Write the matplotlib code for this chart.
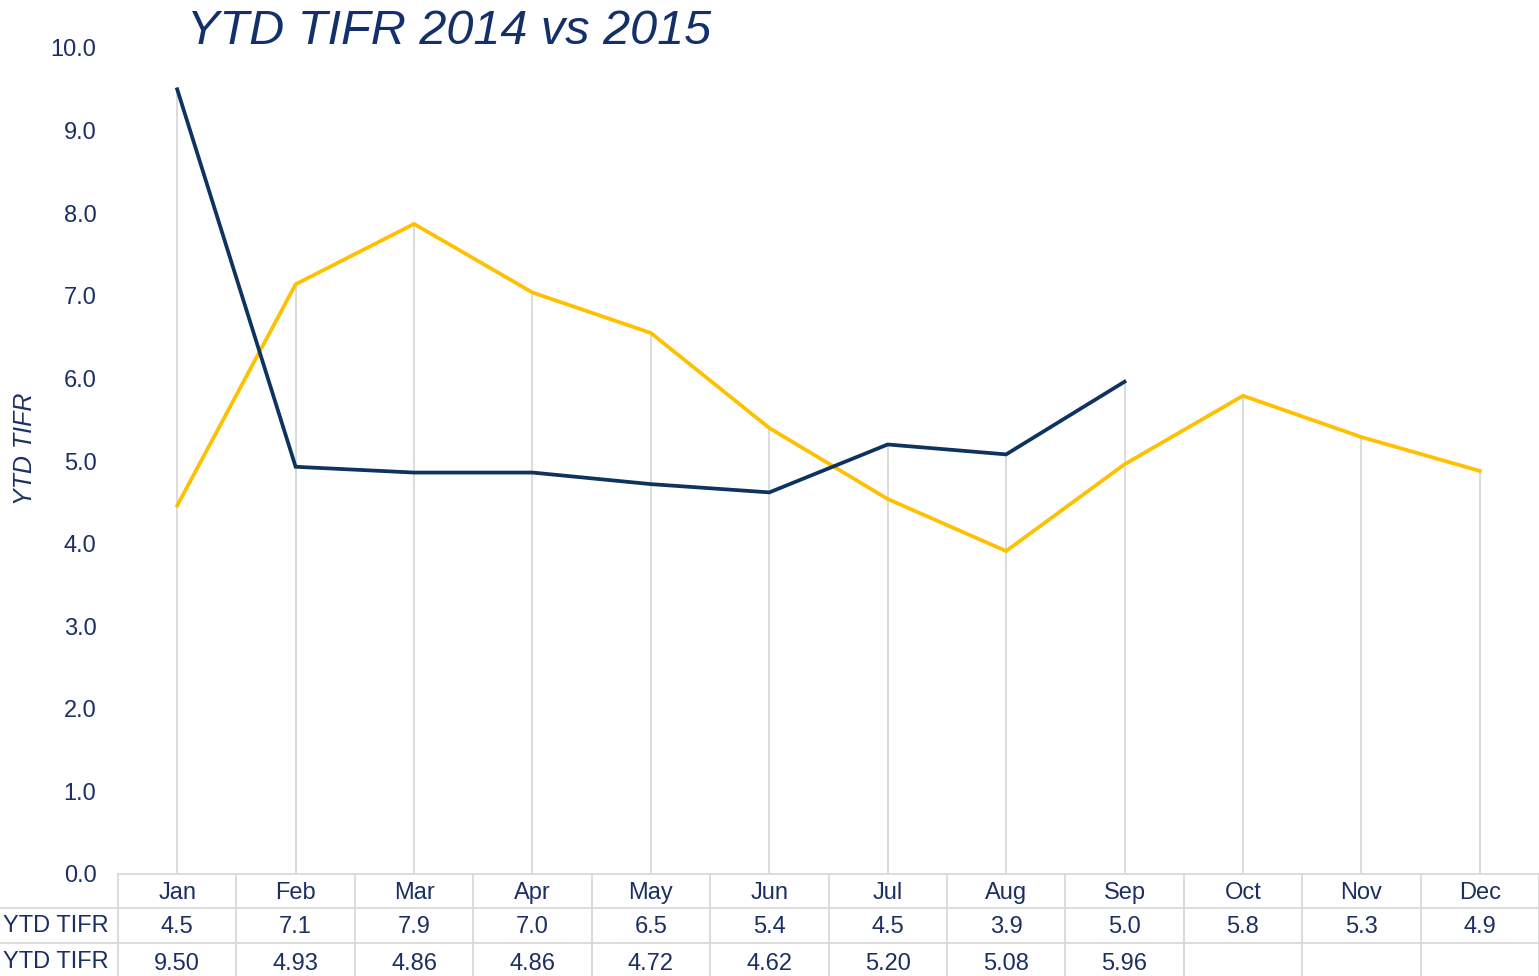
import matplotlib
matplotlib.use("Agg")
import matplotlib.pyplot as plt
from matplotlib.transforms import blended_transform_factory

months = ["Jan", "Feb", "Mar", "Apr", "May", "Jun", "Jul", "Aug", "Sep", "Oct", "Nov", "Dec"]
tifr_2014 = [4.46, 7.14, 7.87, 7.04, 6.55, 5.40, 4.54, 3.91, 4.96, 5.79, 5.29, 4.88]
tifr_2015 = [9.50, 4.93, 4.86, 4.86, 4.72, 4.62, 5.20, 5.08, 5.96]
row_labels = ["YTD TIFR", "YTD TIFR"]

TXT = "#1B2F63"
NAVY = "#0D335E"
GOLD = "#FFC000"
GRID = "#D9D9D9"
FONT = "Liberation Sans"
FS = 17

plt.rcParams['font.family'] = [FONT, 'DejaVu Sans']

fig = plt.figure(figsize=(15.39, 9.76), dpi=100)
ax = fig.add_axes([118/1539, (976-874)/976, 1 - 118/1539, (874-48)/976])

x = list(range(len(months)))
# drop lines
for i in x:
    vals = [tifr_2014[i]] + ([tifr_2015[i]] if i < len(tifr_2015) else [])
    ax.vlines(i, 0, max(vals), color=GRID, lw=1.3, zorder=1)

ax.plot(x, tifr_2014, color=GOLD, lw=2.7, zorder=3, solid_joinstyle='miter')
ax.plot(x[:len(tifr_2015)], tifr_2015, color=NAVY, lw=2.7, zorder=4, solid_joinstyle='miter')

ax.set_xlim(-0.5, len(months) - 0.5)
ax.set_ylim(0, 10)
ax.set_yticks([i for i in range(11)])
ax.set_yticklabels([f"{v:.1f}" for v in range(11)], fontsize=FS, color=TXT)
ax.tick_params(axis='y', length=0, pad=15.5)
ax.set_xticks([])
for s in ax.spines.values():
    s.set_visible(False)

ax.set_ylabel("YTD TIFR", fontsize=18, color=TXT, style='italic')
ax.yaxis.set_label_coords((37 - 118) / 1421, 0.515)

fig.text(187/1539, 1 - 31/976, "YTD TIFR 2014 vs 2015", fontsize=35, color="#13306A",
         style='italic', ha='left', va='center')

# data table
tr = blended_transform_factory(ax.transData, ax.transAxes)
axh = 826.0
rh = 34.3 / axh
y_top = 0.0
rows_y = [y_top - rh * k for k in range(4)]
lkw = dict(color=GRID, lw=1.3, transform=tr, clip_on=False)
xl = -0.5
xr = len(months) - 0.5
xleft_fig = -0.5 - 118 / (1421 / 12)
ax.plot([xl, xr], [rows_y[0]] * 2, **lkw)
for k in (1, 2, 3):
    ax.plot([xleft_fig, xr], [rows_y[k]] * 2, **lkw)
for i in range(len(months) + 1):
    ax.plot([i - 0.5, i - 0.5], [rows_y[0], rows_y[3]], **lkw)

off = -2 / axh
for i, m in enumerate(months):
    ax.text(i, (rows_y[0] + rows_y[1]) / 2 + off, m, transform=tr, ha='center', va='center',
            fontsize=FS, color=TXT, clip_on=False)
for i, v in enumerate(tifr_2014):
    ax.text(i, (rows_y[1] + rows_y[2]) / 2 + off, f"{v:.1f}", transform=tr, ha='center', va='center',
            fontsize=FS, color=TXT, clip_on=False)
for i, v in enumerate(tifr_2015):
    ax.text(i, (rows_y[2] + rows_y[3]) / 2 + off - 2 / axh, f"{v:.2f}", transform=tr, ha='center', va='center',
            fontsize=FS, color=TXT, clip_on=False)
for k, lab in enumerate(row_labels):
    fig.text(3 / 1539, 1 - (926 + 36 * k) / 976, lab, ha='left', va='center',
             fontsize=FS, color=TXT)

fig.savefig("out.png", dpi=100)
